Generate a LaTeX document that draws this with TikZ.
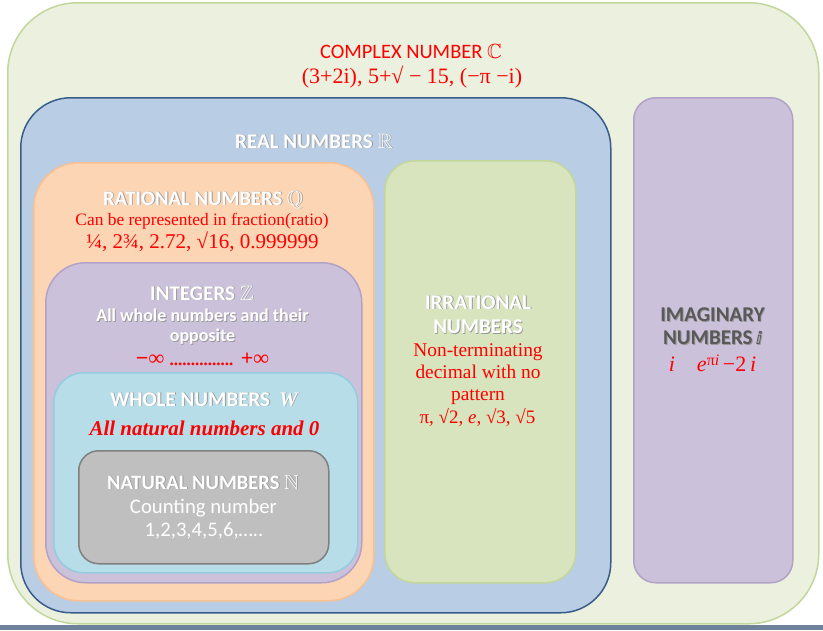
\documentclass[tikz,border=0pt]{standalone}
\usepackage{fontspec}
\usepackage{amssymb}
\setmainfont{Carlito}
\newfontfamily\serifx{Liberation Serif}
\newfontfamily\djv{DejaVu Sans}
\newcommand{\shd}[1]{\makebox[0pt][l]{\hspace{0.9pt}\raisebox{-0.9pt}{\color{black!40}#1}}#1}
\newcommand{\fsz}[1]{\fontsize{#1}{#1}\selectfont}
\definecolor{cgrF}{HTML}{EBF1DE}
\definecolor{cgrB}{HTML}{C3D69B}
\definecolor{realF}{HTML}{B9CDE5}
\definecolor{realB}{HTML}{385D8A}
\definecolor{ratF}{HTML}{FCD5B5}
\definecolor{ratB}{HTML}{FAC090}
\definecolor{intF}{HTML}{CCC1DA}
\definecolor{intB}{HTML}{B3A2C7}
\definecolor{whF}{HTML}{B7DEE8}
\definecolor{whB}{HTML}{93CDDD}
\definecolor{natF}{HTML}{BFBFBF}
\definecolor{natB}{HTML}{7F7F7F}
\definecolor{irrF}{HTML}{D7E4BD}
\definecolor{barC}{HTML}{6E8399}
\tikzset{
  box/.style={draw, line width=1.5pt, rounded corners=#1, inner sep=0pt, anchor=north west},
  hd/.style={anchor=base, inner sep=0pt, text=white, font=\bfseries\fsz{21}},
  rd/.style={anchor=base, inner sep=0pt, text=red, font=\serifx\fsz{17.4}},
}
\begin{document}
\begin{tikzpicture}[x=1pt,y=-1pt]
\useasboundingbox (0,0) rectangle (823,630);
\fill[white] (0,0) rectangle (823,630);
\fill[barC] (0,624.5) rectangle (823,630);
% boxes
\node[box=70pt, draw=cgrB, fill=cgrF, minimum width=811pt, minimum height=621pt] (complex) at (7,2) {};
\node[box=50pt, draw=realB, fill=realF, minimum width=590pt, minimum height=515pt] (real) at (20,97) {};
\node[box=45pt, draw=ratB, fill=ratF, minimum width=340pt, minimum height=438pt] (rational) at (33,162) {};
\node[box=40pt, draw=intB, fill=intF, minimum width=316pt, minimum height=320pt] (integers) at (45,262) {};
\node[box=30pt, draw=whB, fill=whF, minimum width=304pt, minimum height=200pt] (whole) at (53,372) {};
\node[box=20pt, draw=natB, fill=natF, minimum width=250pt, minimum height=113pt] (natural) at (78,450) {};
\node[box=30pt, draw=cgrB, fill=irrF, minimum width=191pt, minimum height=422pt] (irrational) at (384,160) {};
\node[box=22pt, draw=intB, fill=intF, minimum width=159pt, minimum height=485pt] (imaginary) at (633,97) {};
% complex
\node[hd, text=red, font=\fsz{20.5}] (ctitle) at (411,58) {COMPLEX NUMBER $\mathbb{C}$};
\node[rd, font=\serifx\fsz{22}] (cex) at (412,83) {(3+2i), 5+√ − 15, (−π −i)};
% real
\node[hd] (rtitle) at (314,148) {\shd{REAL NUMBERS $\mathbb{R}$}};
% rational
\node[hd, font=\bfseries\fsz{20.6}] (qtitle) at (203,205) {\shd{RATIONAL NUMBERS $\mathbb{Q}$}};
\node[rd] (qdef) at (202,225) {Can be represented in fraction(ratio)};
\node[rd, font=\serifx\fsz{21}] (qex) at (202.5,248) {¼, 2¾, 2.72, √16, 0.999999};
% integers
\node[hd] (ztitle) at (202,300) {\shd{INTEGERS $\mathbb{Z}$}};
\node[hd, font=\bfseries\fsz{18}] (zdef1) at (202.5,321.7) {\shd{All whole numbers and their}};
\node[hd, font=\bfseries\fsz{18}] (zdef2) at (202.5,341.7) {\shd{opposite}};
\node[rd, font=\serifx\bfseries\fsz{22}] (zex) at (202.5,365) {−∞ {\fsz{17}...............} +∞};
% whole
\node[hd] (wtitle) at (204,406) {\shd{WHOLE NUMBERS\hspace{9pt}{\serifx\itshape W}}};
\node[rd, font=\serifx\bfseries\itshape\fsz{21}] (wdef) at (204.5,435) {All natural numbers and 0};
% natural
\node[hd, font=\bfseries\fsz{20.5}] (ntitle) at (203,489) {\shd{NATURAL NUMBERS $\mathbb{N}$}};
\node[hd, font=\fsz{20.7}] (ndef) at (203.5,513.3) {Counting number};
\node[hd, font=\fsz{20.7}] (nex) at (204,536.7) {1,2,3,4,5,6,…..};
% irrational
\node[hd] (ititle1) at (478,309) {\shd{IRRATIONAL}};
\node[hd] (ititle2) at (478,333.3) {\shd{NUMBERS}};
\node[rd, font=\serifx\fsz{19.4}] (idef1) at (478,356.7) {Non-terminating};
\node[rd, font=\serifx\fsz{19.4}] (idef2) at (478,378.3) {decimal with no};
\node[rd, font=\serifx\fsz{19.4}] (idef3) at (478,400) {pattern};
\node[rd, font=\serifx\fsz{19}] (iex) at (477.5,423.3) {π, √2, \textit{e}, √3, √5};
% imaginary
\node[hd, text=black!65] (mtitle1) at (712.5,321.7) {\shd{IMAGINARY}};
\node[hd, text=black!65] (mtitle2) at (712.5,344.7) {\shd{NUMBERS\,{\djv\bfseries\fsz{17}ⅈ}}};
\node[rd, font=\serifx\fsz{22}] (mex) at (712.5,371.7) {\textit{i}\hspace{22pt}\textit{e}\raisebox{6.5pt}{\fsz{16}π\textit{i}}\,−2\,\textit{i}};
\end{tikzpicture}
\end{document}
